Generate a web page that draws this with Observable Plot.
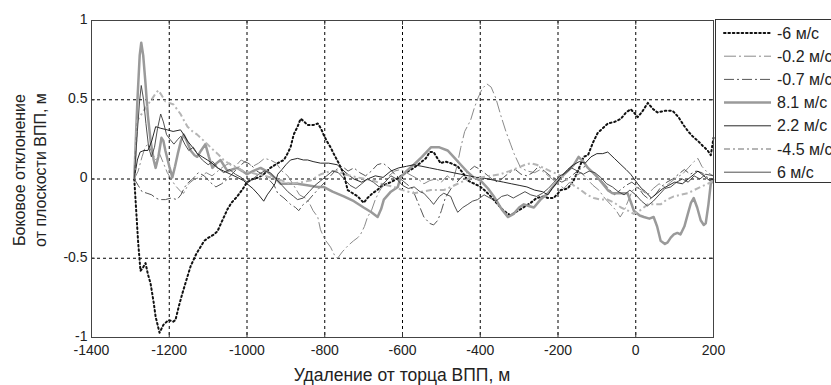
<!DOCTYPE html>
<html><head><meta charset="utf-8">
<script src="https://cdn.jsdelivr.net/npm/d3@7"></script>
<script src="https://cdn.jsdelivr.net/npm/@observablehq/plot@0.6"></script>
<style>body{margin:0;background:#fff;}#chart svg{display:block;}</style>
</head><body><div id="chart"></div>
<script>
// ---- data ----
const seriesNames = ["-6 м/с", "-0.2 м/с", "-0.7 м/с", "8.1 м/с", "2.2 м/с", "-4.5 м/с", "6 м/с"];
const xTicks = [-1400, -1200, -1000, -800, -600, -400, -200, 0, 200];
const yTicks = [-1, -0.5, 0, 0.5, 1];
const xLabel = "Удаление от торца ВПП, м";
const yLabel1 = "Боковое отклонение";
const yLabel2 = "от плоскости ВПП, м";

const sM6 = [[-1290,0],[-1285,-0.2],[-1280,-0.4],[-1274,-0.58],[-1268,-0.56],[-1261,-0.53],[-1255,-0.6],[-1248,-0.66],[-1240,-0.78],[-1235,-0.87],[-1225,-0.97],[-1215,-0.92],[-1202,-0.89],[-1190,-0.9],[-1184,-0.89],[-1175,-0.8],[-1166,-0.72],[-1155,-0.63],[-1145,-0.55],[-1130,-0.47],[-1120,-0.43],[-1110,-0.39],[-1099,-0.37],[-1085,-0.35],[-1076,-0.33],[-1065,-0.27],[-1050,-0.19],[-1040,-0.15],[-1025,-0.11],[-1010,-0.06],[-1000,-0.02],[-985,0],[-970,0.01],[-957,0.03],[-940,0.07],[-921,0.1],[-905,0.12],[-896,0.16],[-888,0.2],[-880,0.28],[-870,0.33],[-862,0.38],[-852,0.36],[-844,0.34],[-830,0.34],[-818,0.35],[-810,0.32],[-803,0.28],[-795,0.24],[-785,0.2],[-775,0.15],[-764,0.1],[-751,0.03],[-741,-0.07],[-728,-0.09],[-715,-0.11],[-700,-0.15],[-690,-0.12],[-677,-0.09],[-665,-0.07],[-656,-0.05],[-640,-0.03],[-630,-0.02],[-615,0],[-597,0.03],[-585,0.05],[-571,0.07],[-555,0.1],[-540,0.13],[-530,0.17],[-520,0.17],[-510,0.13],[-502,0.1],[-490,0.11],[-476,0.1],[-458,0.08],[-445,0.04],[-432,-0.01],[-415,-0.03],[-399,-0.05],[-385,-0.08],[-373,-0.11],[-355,-0.16],[-340,-0.2],[-322,-0.23],[-310,-0.21],[-296,-0.19],[-283,-0.17],[-270,-0.15],[-255,-0.12],[-237,-0.11],[-225,-0.12],[-211,-0.12],[-200,-0.09],[-193,-0.07],[-175,-0.06],[-160,-0.01],[-149,0.05],[-134,0.14],[-123,0.15],[-110,0.23],[-98,0.29],[-85,0.32],[-72,0.35],[-55,0.36],[-38,0.38],[-25,0.42],[-13,0.44],[-5,0.42],[5,0.39],[18,0.43],[31,0.48],[45,0.44],[56,0.42],[75,0.43],[95,0.43],[110,0.39],[123,0.34],[135,0.3],[146,0.27],[160,0.24],[172,0.21],[185,0.18],[193,0.15],[200,0.26]];

const sM02 = [[-1290,0],[-1280,0.05],[-1270,0.14],[-1262,0.2],[-1255,0.22],[-1245,0.17],[-1235,0.12],[-1225,0.16],[-1215,0.1],[-1205,0.04],[-1195,0],[-1185,-0.04],[-1170,-0.08],[-1163,-0.09],[-1150,-0.03],[-1135,0],[-1120,0.01],[-1105,0.04],[-1090,0.02],[-1075,0.05],[-1060,0.08],[-1045,0.1],[-1030,0.08],[-1015,0.12],[-1000,0.1],[-985,0.08],[-970,0.1],[-955,0.13],[-940,0.12],[-925,0.1],[-910,0.05],[-895,0.02],[-880,-0.04],[-865,-0.1],[-850,-0.12],[-840,-0.15],[-830,-0.2],[-818,-0.24],[-811,-0.32],[-800,-0.38],[-785,-0.43],[-775,-0.48],[-767,-0.5],[-755,-0.46],[-740,-0.42],[-726,-0.39],[-715,-0.37],[-708,-0.35],[-698,-0.3],[-690,-0.24],[-680,-0.2],[-670,-0.13],[-660,-0.08],[-648,-0.03],[-635,0.02],[-620,0.05],[-605,0.06],[-590,0.04],[-575,0.02],[-560,0],[-545,-0.03],[-530,-0.01],[-515,0],[-500,-0.02],[-485,0.02],[-470,-0.01],[-460,0.08],[-450,0.2],[-440,0.3],[-425,0.37],[-415,0.45],[-406,0.51],[-395,0.57],[-383,0.6],[-372,0.58],[-360,0.51],[-347,0.4],[-334,0.3],[-322,0.22],[-313,0.16],[-296,0.07],[-278,0.05],[-260,0.04],[-245,0.06],[-230,0.03],[-215,0],[-200,-0.03],[-185,-0.06],[-170,-0.02],[-155,0.02],[-140,0.04],[-125,0],[-110,-0.04],[-95,-0.07],[-80,-0.12],[-65,-0.16],[-50,-0.2],[-40,-0.24],[-30,-0.2],[-20,-0.14],[-10,-0.08],[0,-0.05],[15,-0.07],[30,-0.1],[45,-0.06],[60,-0.03],[75,-0.05],[90,-0.02],[105,0.01],[120,0.03],[135,0.07],[150,0.11],[160,0.13],[170,0.08],[185,0.04],[200,0.02]];

const sM07 = [[-1290,0],[-1280,-0.04],[-1270,-0.08],[-1257,-0.09],[-1245,-0.1],[-1235,-0.12],[-1225,-0.13],[-1210,-0.13],[-1195,-0.12],[-1180,-0.13],[-1170,-0.1],[-1160,-0.05],[-1150,-0.02],[-1140,0],[-1125,0.04],[-1110,0.02],[-1095,-0.02],[-1080,-0.05],[-1065,-0.03],[-1050,0],[-1035,0.04],[-1020,0.08],[-1005,0.11],[-990,0.09],[-975,0.05],[-960,0.03],[-945,0],[-930,-0.04],[-921,-0.09],[-905,-0.12],[-888,-0.16],[-875,-0.18],[-867,-0.2],[-855,-0.16],[-844,-0.14],[-830,-0.1],[-815,-0.06],[-800,-0.02],[-785,0.02],[-770,0.06],[-755,0.08],[-740,0.05],[-725,0.07],[-710,0.04],[-695,0.02],[-680,0.05],[-665,0.09],[-650,0.1],[-635,0.07],[-620,0.03],[-605,0],[-590,-0.03],[-575,-0.06],[-560,-0.15],[-545,-0.24],[-530,-0.28],[-520,-0.29],[-509,-0.26],[-500,-0.2],[-490,-0.12],[-475,-0.06],[-460,-0.02],[-445,0.02],[-430,0.05],[-415,0.08],[-400,0.06],[-385,0.03],[-370,0],[-355,-0.02],[-340,0.01],[-325,0.04],[-310,0.06],[-295,0.03],[-280,0.02],[-265,0.04],[-250,0.08],[-235,0.05],[-220,0.02],[-205,0],[-190,-0.02],[-175,0],[-160,0.03],[-145,0.06],[-130,0.08],[-115,0.05],[-100,0.02],[-85,-0.02],[-70,-0.06],[-55,-0.1],[-40,-0.07],[-25,-0.04],[-10,-0.02],[5,-0.05],[20,-0.1],[35,-0.13],[50,-0.1],[65,-0.05],[80,-0.02],[95,0],[110,0.03],[125,0.06],[140,0.03],[155,0.05],[170,0.04],[185,0.01],[200,0]];

const s81 = [[-1290,0],[-1282,0.49],[-1276,0.78],[-1272,0.86],[-1267,0.78],[-1261,0.6],[-1255,0.4],[-1248,0.24],[-1240,0.12],[-1235,0.07],[-1228,0.14],[-1220,0.26],[-1215,0.24],[-1210,0.18],[-1200,0.08],[-1192,0.01],[-1185,0.08],[-1178,0.16],[-1170,0.24],[-1163,0.28],[-1155,0.24],[-1145,0.18],[-1135,0.15],[-1128,0.14],[-1118,0.18],[-1107,0.22],[-1098,0.14],[-1089,0.07],[-1078,0.1],[-1068,0.12],[-1058,0.08],[-1050,0.05],[-1038,0.06],[-1025,0.07],[-1012,0.05],[-1000,0.03],[-985,0.05],[-965,0.07],[-950,0.05],[-939,0.03],[-925,0],[-913,-0.03],[-890,-0.03],[-870,-0.03],[-845,-0.04],[-818,-0.05],[-803,-0.05],[-780,-0.08],[-751,-0.11],[-725,-0.14],[-700,-0.18],[-680,-0.21],[-664,-0.24],[-655,-0.19],[-648,-0.13],[-630,-0.08],[-612,-0.05],[-605,0.01],[-590,0.05],[-571,0.09],[-550,0.14],[-527,0.2],[-505,0.2],[-484,0.18],[-465,0.13],[-450,0.09],[-435,0.05],[-417,0.01],[-399,-0.01],[-380,-0.06],[-365,-0.11],[-345,-0.19],[-329,-0.24],[-314,-0.22],[-300,-0.18],[-288,-0.16],[-275,-0.17],[-262,-0.18],[-245,-0.13],[-226,-0.09],[-210,-0.04],[-193,0.01],[-175,0.05],[-159,0.09],[-147,0.14],[-135,0.11],[-123,0.07],[-110,0.04],[-98,0.01],[-85,-0.03],[-72,-0.07],[-60,-0.09],[-46,-0.09],[-30,-0.09],[-21,-0.09],[-12,-0.15],[-5,-0.2],[10,-0.23],[21,-0.24],[35,-0.25],[46,-0.24],[55,-0.3],[64,-0.39],[75,-0.41],[82,-0.4],[90,-0.37],[98,-0.35],[107,-0.34],[115,-0.35],[125,-0.3],[134,-0.22],[142,-0.15],[149,-0.12],[158,-0.18],[167,-0.26],[175,-0.29],[180,-0.28],[187,-0.16],[193,-0.03],[200,0]];

const s22 = [[-1290,0],[-1282,0.12],[-1275,0.17],[-1265,0.18],[-1255,0.18],[-1245,0.24],[-1235,0.33],[-1222,0.32],[-1205,0.31],[-1190,0.3],[-1171,0.31],[-1160,0.27],[-1153,0.24],[-1140,0.2],[-1128,0.16],[-1115,0.14],[-1102,0.12],[-1090,0.1],[-1076,0.07],[-1060,0.05],[-1042,0.03],[-1025,0.01],[-1009,-0.01],[-1000,-0.03],[-985,-0.06],[-970,-0.1],[-957,-0.14],[-948,-0.1],[-939,-0.07],[-928,-0.03],[-921,0.03],[-910,0.06],[-900,0.09],[-888,0.12],[-870,0.13],[-855,0.12],[-844,0.12],[-830,0.11],[-811,0.1],[-790,0.1],[-768,0.09],[-755,0.06],[-741,0.03],[-725,0],[-705,-0.02],[-690,0],[-670,0.02],[-650,0.01],[-630,0.05],[-610,0.07],[-590,0.08],[-571,0.09],[-550,0.08],[-530,0.07],[-510,0.06],[-490,0.05],[-470,0.04],[-450,0.03],[-430,0.02],[-410,0.01],[-399,0.01],[-380,0],[-360,-0.01],[-340,-0.02],[-320,-0.03],[-300,-0.04],[-280,-0.05],[-260,-0.07],[-240,-0.08],[-226,-0.1],[-215,-0.06],[-205,-0.03],[-190,0.02],[-175,0.06],[-160,0.09],[-145,0.11],[-130,0.1],[-115,0.14],[-100,0.16],[-85,0.16],[-72,0.17],[-55,0.13],[-38,0.09],[-25,0.06],[-13,0.03],[5,-0.03],[15,-0.06],[25,-0.08],[40,-0.12],[55,-0.09],[70,-0.06],[85,-0.04],[100,-0.02],[120,-0.03],[140,0.01],[160,0.05],[175,0.02],[190,-0.01],[200,0]];

const sM45 = [[-1290,0],[-1282,0.37],[-1274,0.4],[-1266,0.43],[-1255,0.47],[-1243,0.51],[-1235,0.54],[-1228,0.56],[-1220,0.53],[-1210,0.49],[-1200,0.48],[-1189,0.47],[-1180,0.44],[-1171,0.41],[-1160,0.36],[-1153,0.33],[-1140,0.3],[-1128,0.28],[-1115,0.25],[-1102,0.22],[-1090,0.19],[-1076,0.16],[-1060,0.12],[-1042,0.09],[-1025,0.07],[-1009,0.05],[-990,0.04],[-973,0.03],[-955,0.02],[-939,0.01],[-910,-0.01],[-888,-0.03],[-860,-0.02],[-837,-0.01],[-810,0.03],[-785,0.05],[-768,0.05],[-751,0.03],[-733,0.02],[-716,0.01],[-695,0],[-674,-0.01],[-655,-0.03],[-640,-0.04],[-622,-0.05],[-600,-0.07],[-585,-0.08],[-571,-0.09],[-550,-0.08],[-527,-0.07],[-510,-0.07],[-494,-0.07],[-475,-0.05],[-458,-0.03],[-440,-0.01],[-425,0.01],[-399,0.01],[-375,0.02],[-348,0.03],[-325,0.05],[-304,0.07],[-285,0.09],[-270,0.1],[-255,0.09],[-237,0.07],[-220,0.05],[-201,0.03],[-185,0.01],[-175,-0.01],[-160,-0.04],[-141,-0.07],[-125,-0.1],[-108,-0.12],[-90,-0.13],[-72,-0.13],[-55,-0.15],[-38,-0.18],[-20,-0.2],[-5,-0.22],[10,-0.2],[31,-0.16],[45,-0.16],[64,-0.16],[80,-0.13],[98,-0.11],[115,-0.1],[134,-0.09],[150,-0.07],[167,-0.05],[185,-0.03],[200,-0.01]];

const s6 = [[-1290,0],[-1282,0.3],[-1276,0.5],[-1272,0.59],[-1266,0.5],[-1260,0.35],[-1253,0.2],[-1246,0.14],[-1238,0.2],[-1230,0.32],[-1222,0.41],[-1215,0.36],[-1207,0.28],[-1198,0.25],[-1188,0.22],[-1178,0.25],[-1170,0.27],[-1160,0.22],[-1150,0.18],[-1138,0.2],[-1128,0.16],[-1115,0.12],[-1100,0.09],[-1088,0.11],[-1075,0.07],[-1060,0.04],[-1045,0.06],[-1030,0.03],[-1015,0.01],[-1000,-0.02],[-985,0],[-970,0.03],[-955,0.05],[-940,0.04],[-925,0],[-910,-0.04],[-895,-0.08],[-880,-0.11],[-870,-0.13],[-855,-0.12],[-840,-0.08],[-825,-0.04],[-810,-0.01],[-795,0.02],[-780,0.05],[-765,0.04],[-750,0],[-735,-0.04],[-720,-0.06],[-705,-0.03],[-690,0],[-675,-0.02],[-660,-0.05],[-645,-0.02],[-630,0.02],[-615,0],[-600,-0.04],[-585,-0.06],[-570,-0.05],[-555,-0.08],[-545,-0.09],[-530,-0.13],[-520,-0.16],[-505,-0.11],[-494,-0.09],[-476,-0.11],[-466,-0.17],[-458,-0.21],[-445,-0.18],[-432,-0.16],[-420,-0.14],[-407,-0.13],[-390,-0.1],[-375,-0.12],[-360,-0.14],[-345,-0.11],[-330,-0.1],[-315,-0.12],[-300,-0.1],[-285,-0.08],[-270,-0.1],[-255,-0.11],[-240,-0.09],[-225,-0.06],[-210,-0.02],[-195,0.02],[-180,0.04],[-165,0.07],[-150,0.05],[-135,0.03],[-120,0.05],[-105,0.04],[-90,0.01],[-75,-0.03],[-60,-0.05],[-45,-0.08],[-30,-0.1],[-15,-0.07],[0,-0.1],[15,-0.14],[30,-0.17],[45,-0.14],[60,-0.1],[75,-0.06],[90,-0.05],[105,-0.02],[120,0],[135,-0.02],[150,0.02],[165,0],[180,0.03],[200,0.02]];

const seriesValues = [sM6, sM02, sM07, s81, s22, sM45, s6];

// ---- styles ----
const styles = [
  {stroke: "#111", strokeWidth: 2, dash: "1.6,2.8"},
  {stroke: "#8a8a8a", strokeWidth: 1, dash: "12,3,2,3"},
  {stroke: "#555", strokeWidth: 1, dash: "10,3,2,3"},
  {stroke: "#9a9a9a", strokeWidth: 2.5, dash: null},
  {stroke: "#111", strokeWidth: 0.9, dash: null},
  {stroke: "#b5b5b5", strokeWidth: 2, dash: "6,3,2,3"},
  {stroke: "#3c3c3c", strokeWidth: 0.9, dash: null}
];

const W = 831, H = 385;
const mL = 91, mR = 118, mT = 20, mB = 48;
const font = "'Liberation Sans', Arial, sans-serif";

const lineMarks = seriesValues.map((vals, i) =>
  Plot.line(vals.map(([x, y]) => ({x, y})), {
    x: "x", y: "y",
    stroke: styles[i].stroke,
    strokeWidth: styles[i].strokeWidth,
    strokeDasharray: styles[i].dash,
    strokeLinejoin: "round",
    strokeLinecap: i === 0 ? "round" : "butt",
    curve: "linear"
  })
);

const chart = Plot.plot({
  width: W, height: H,
  marginLeft: mL, marginRight: mR, marginTop: mT, marginBottom: mB,
  style: {fontFamily: font, fontSize: "14px", color: "#222", background: "#fff"},
  x: {domain: [-1400, 200], ticks: xTicks},
  y: {domain: [-1, 1], ticks: yTicks},
  marks: [
    Plot.gridX(xTicks, {stroke: "#000", strokeOpacity: 1, strokeDasharray: "3,3", strokeWidth: 1}),
    Plot.gridY(yTicks, {stroke: "#000", strokeOpacity: 1, strokeDasharray: "3,3", strokeWidth: 1}),
    ...lineMarks,
    Plot.ruleX(xTicks, {y1: -1, y2: -0.97, stroke: "#333"}),
    Plot.ruleX(xTicks, {y1: 1, y2: 0.97, stroke: "#333"}),
    Plot.ruleY(yTicks, {x1: -1400, x2: -1390, stroke: "#333"}),
    Plot.ruleY(yTicks, {x1: 200, x2: 190, stroke: "#333"}),
    Plot.frame({stroke: "#444", strokeWidth: 1}),
    Plot.axisX(xTicks, {tickSize: 0, tickPadding: 8, label: null, tickFormat: d => String(d), fill: "#222"}),
    Plot.axisY(yTicks, {tickSize: 0, tickPadding: 4, label: null, tickFormat: d => String(d), fill: "#222", dy: -1})
  ]
});

document.getElementById("chart").appendChild(chart);

// ---- axis titles & legend ----
const svg = d3.select(chart);
svg.append("text")
  .attr("x", (mL + W - mR) / 2).attr("y", 381)
  .attr("text-anchor", "middle")
  .attr("font-family", font).attr("font-size", 17.5).attr("fill", "#222")
  .text(xLabel);
const yt = svg.append("text")
  .attr("transform", `translate(25,${170}) rotate(-90)`)
  .attr("text-anchor", "middle")
  .attr("font-family", font).attr("font-size", 16).attr("fill", "#222");
yt.append("tspan").attr("x", 0).attr("y", 0).text(yLabel1);
yt.append("tspan").attr("x", 0).attr("y", 21).text(yLabel2);

const lg = svg.append("g");
lg.append("rect").attr("x", 715.5).attr("y", 19.5).attr("width", 130).attr("height", 163)
  .attr("fill", "#fff").attr("stroke", "#333").attr("stroke-width", 1);
seriesNames.forEach((name, i) => {
  const yy = 33 + i * 23.2;
  lg.append("line").attr("x1", 724).attr("x2", 771).attr("y1", yy).attr("y2", yy)
    .attr("stroke", styles[i].stroke).attr("stroke-width", styles[i].strokeWidth)
    .attr("stroke-dasharray", styles[i].dash)
    .attr("stroke-linecap", i === 0 ? "round" : "butt");
  lg.append("text").attr("x", 777).attr("y", yy).attr("dy", "0.35em")
    .attr("text-anchor", "start")
    .attr("font-family", font).attr("font-size", 16).attr("fill", "#222").text(name);
});
</script>
</body></html>
